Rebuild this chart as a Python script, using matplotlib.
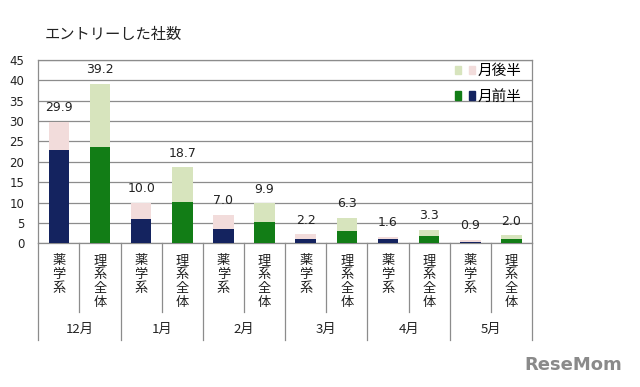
import matplotlib
matplotlib.use('Agg')
import matplotlib.pyplot as plt
from matplotlib.transforms import blended_transform_factory
from matplotlib.legend_handler import HandlerTuple
from matplotlib.patches import Patch

plt.rcParams['font.family'] = ['DejaVu Sans', 'Noto Sans CJK JP']

# ---- data ----
months = ['12月', '1月', '2月', '3月', '4月', '5月']
groups = ['薬学系', '理系全体']
pharm_first = [22.9, 6.0, 3.5, 1.0, 1.0, 0.4]
pharm_total = [29.9, 10.0, 7.0, 2.2, 1.6, 0.9]
sci_first = [23.6, 10.1, 5.2, 3.0, 1.7, 1.0]
sci_total = [39.2, 18.7, 9.9, 6.3, 3.3, 2.0]
legend_labels = ['月後半', '月前半']
title = 'エントリーした社数'

pharm_second = [t - f for t, f in zip(pharm_total, pharm_first)]
sci_second = [t - f for t, f in zip(sci_total, sci_first)]

navy = '#14235f'
pink = '#f2dcdb'
green = '#127d16'
lgreen = '#d7e4bd'
gridc = '#8c8c8c'

fig = plt.figure(figsize=(6.4, 3.87), dpi=100)
W, H = 640, 387
ax = fig.add_axes([38.3 / W, 1 - 243.3 / H, 493.7 / W, 183.3 / H])

xp = [2 * i for i in range(len(months))]
xs = [2 * i + 1 for i in range(len(months))]
bw = 0.5
ax.bar(xp, pharm_first, width=bw, color=navy, zorder=3)
ax.bar(xp, pharm_second, bottom=pharm_first, width=bw, color=pink, zorder=3)
ax.bar(xs, sci_first, width=bw, color=green, zorder=3)
ax.bar(xs, sci_second, bottom=sci_first, width=bw, color=lgreen, zorder=3)

for x, t in list(zip(xp, pharm_total)) + list(zip(xs, sci_total)):
    ax.annotate(f'{t:.1f}', (x, t), xytext=(0, 10), textcoords='offset points',
                ha='center', va='center', fontsize=9, color='#222222')

ax.set_xlim(-0.5, 2 * len(months) - 0.5)
ax.set_ylim(0, 45)
ax.set_yticks(range(0, 46, 5))
ax.set_xticks([])
ax.tick_params(axis='y', length=0, pad=10, labelsize=8.5, labelcolor='#222222')
ax.yaxis.grid(True, color=gridc, linewidth=0.9, zorder=0)
ax.set_axisbelow(True)
for s in ax.spines.values():
    s.set_color(gridc)
    s.set_linewidth(0.9)

trans = blended_transform_factory(ax.transData, ax.transAxes)
cjk = ['Noto Sans CJK JP', 'DejaVu Sans']
for i in range(len(months)):
    for j, x in enumerate((xp[i], xs[i])):
        ax.text(x, -0.06, '\n'.join(groups[j]), transform=trans, ha='center', va='top',
                fontsize=9.5, linespacing=1.1, family=cjk, color='#222222')
    ax.text(xp[i] + 0.5, -0.47, months[i], transform=trans, ha='center', va='center',
            fontsize=9.5, family=cjk, color='#222222')
    # inner divider
    ax.plot([xp[i] + 0.5] * 2, [0, -0.375], transform=trans, color=gridc, lw=0.9, clip_on=False)
# group dividers
for k in range(len(months) + 1):
    x = 2 * k - 0.5
    ax.plot([x, x], [0, -0.53], transform=trans, color=gridc, lw=0.9, clip_on=False)

handles = [(Patch(color=lgreen), Patch(color=pink)), (Patch(color=green), Patch(color=navy))]
ax.legend(handles, legend_labels, handler_map={tuple: HandlerTuple(ndivide=None, pad=0.5)},
          loc='upper right', bbox_to_anchor=(0.99, 1.01), frameon=False,
          prop={'family': cjk, 'size': 10.5}, handlelength=1.4, handleheight=0.5,
          handletextpad=0.15, labelspacing=0.8, borderaxespad=0)

fig.text(45 / W, 1 - 35 / H, title, fontsize=11, va='center', ha='left', family=cjk, color='#222222')
fig.text(622 / W, 1 - 365 / H, 'ReseMom', ha='right', va='center', color='#8a8a8a',
         fontweight='bold', fontsize=13)

fig.savefig('out.png', dpi=100, facecolor='white')
